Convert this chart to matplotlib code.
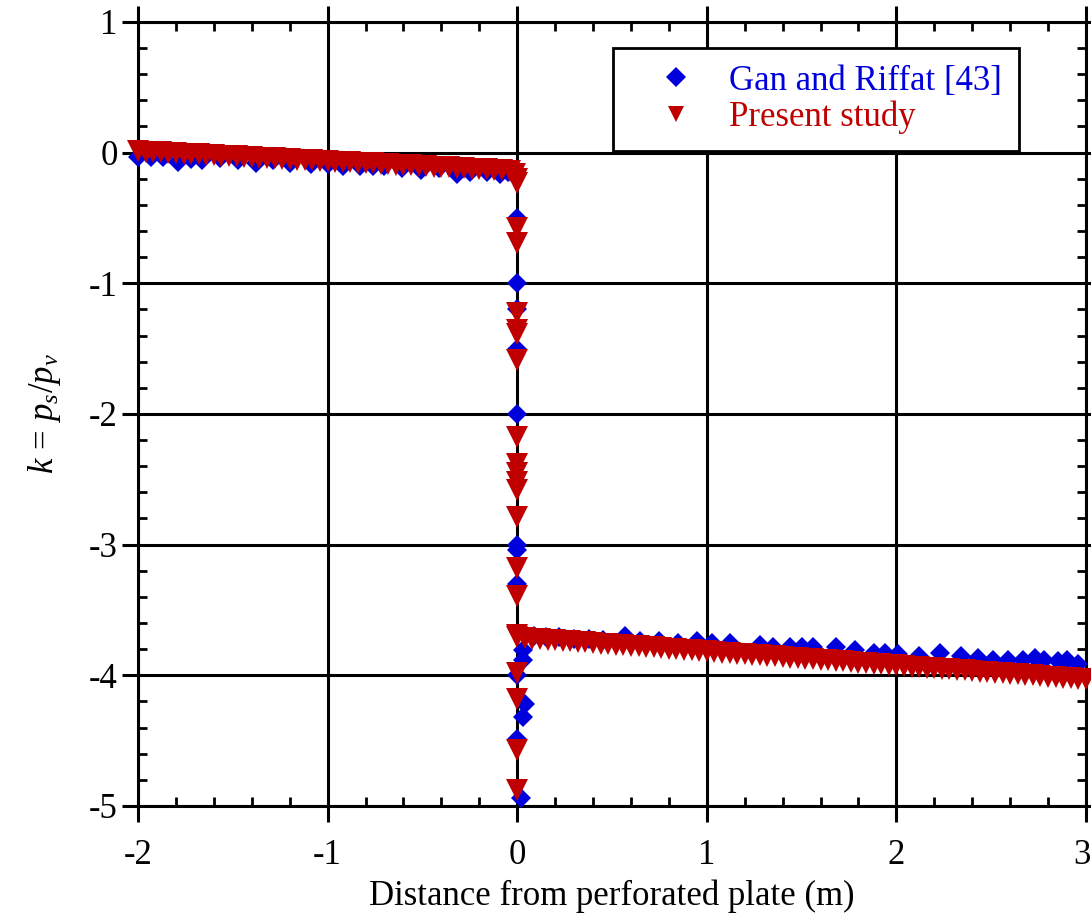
import matplotlib
matplotlib.use('Agg')
from matplotlib import pyplot as plt
from matplotlib.ticker import MultipleLocator
from matplotlib.transforms import ScaledTranslation

# Gan and Riffat [43] - measured pressure coefficient
gan_x = [-2.00, -1.93, -1.87, -1.79, -1.72, -1.66, -1.57, -1.47, -1.38, -1.29,
         -1.20, -1.09, -1.00, -0.92, -0.83, -0.76, -0.70, -0.61, -0.51, -0.41,
         -0.32, -0.25, -0.16, -0.09, -0.05, -0.01,
         0.00, 0.00, 0.00, 0.00, 0.00, 0.00, 0.00, 0.00, 0.03, 0.03,
         0.00, 0.04, 0.03, 0.00, 0.02,
         0.09, 0.15, 0.22, 0.30, 0.38, 0.45, 0.57, 0.65, 0.75, 0.85,
         0.95, 1.03, 1.12, 1.28, 1.35, 1.44, 1.50, 1.56, 1.68, 1.78,
         1.88, 1.94, 2.01, 2.12, 2.23, 2.34, 2.43, 2.51, 2.59, 2.67,
         2.73, 2.78, 2.85, 2.90, 2.96]
gan_y = [-0.03, -0.03, -0.03, -0.07, -0.05, -0.06, -0.04, -0.06, -0.08, -0.06,
         -0.08, -0.09, -0.09, -0.10, -0.10, -0.10, -0.10, -0.12, -0.13, -0.12,
         -0.16, -0.15, -0.15, -0.16, -0.15, -0.15,
         -0.50, -1.00, -1.20, -1.50, -2.00, -3.00, -3.04, -3.30, -3.81, -3.88,
         -4.00, -4.22, -4.32, -4.49, -4.94,
         -3.70, -3.71, -3.71, -3.72, -3.72, -3.73, -3.70, -3.74, -3.74, -3.75,
         -3.74, -3.75, -3.75, -3.77, -3.78, -3.78, -3.78, -3.78, -3.78, -3.81,
         -3.83, -3.83, -3.84, -3.85, -3.83, -3.85, -3.87, -3.88, -3.88, -3.88,
         -3.87, -3.88, -3.89, -3.88, -3.91]

# present study - upstream of the plate
study_up_x = [-2.00, -1.96, -1.92, -1.88, -1.84, -1.80, -1.76, -1.72, -1.68, -1.64,
              -1.60, -1.56, -1.52, -1.48, -1.44, -1.40, -1.36, -1.32, -1.28, -1.24,
              -1.20, -1.16, -1.12, -1.08, -1.04, -1.00, -0.96, -0.92, -0.88, -0.84,
              -0.80, -0.76, -0.72, -0.68, -0.64, -0.60, -0.56, -0.52, -0.48, -0.44,
              -0.40, -0.36, -0.32, -0.28, -0.24, -0.20, -0.16, -0.12, -0.08, -0.04,
              -0.01, 0.00]
study_up_y = [0.010, 0.007, 0.004, 0.001, -0.002, -0.005, -0.008, -0.011, -0.014, -0.017,
              -0.020, -0.023, -0.026, -0.029, -0.032, -0.035, -0.038, -0.041, -0.044, -0.047,
              -0.050, -0.053, -0.056, -0.059, -0.062, -0.065, -0.068, -0.071, -0.074, -0.077,
              -0.080, -0.083, -0.086, -0.089, -0.092, -0.095, -0.098, -0.101, -0.104, -0.107,
              -0.110, -0.113, -0.116, -0.119, -0.122, -0.125, -0.128, -0.131, -0.134, -0.137,
              -0.160, -0.200]

# present study - across the plate (x = 0)
study_plate_y = [-0.23, -0.58, -0.69, -1.23, -1.36, -1.39, -1.59, -2.18, -2.38, -2.45,
                 -2.52, -2.58, -2.79, -3.18, -3.39, -3.69, -3.98, -4.18, -4.57, -4.88]
study_plate_x = [0.0] * len(study_plate_y)

# present study - downstream of the plate
study_down_x = [0.00, 0.04, 0.08, 0.12, 0.16, 0.20, 0.24, 0.28, 0.32, 0.36,
                0.40, 0.44, 0.48, 0.52, 0.56, 0.60, 0.64, 0.68, 0.72, 0.76,
                0.80, 0.84, 0.88, 0.92, 0.96, 1.00, 1.04, 1.08, 1.12, 1.16,
                1.20, 1.24, 1.28, 1.32, 1.36, 1.40, 1.44, 1.48, 1.52, 1.56,
                1.60, 1.64, 1.68, 1.72, 1.76, 1.80, 1.84, 1.88, 1.92, 1.96,
                2.00, 2.04, 2.08, 2.12, 2.16, 2.20, 2.24, 2.28, 2.32, 2.36,
                2.40, 2.44, 2.48, 2.52, 2.56, 2.60, 2.64, 2.68, 2.72, 2.76,
                2.80, 2.84, 2.88, 2.92, 2.96, 3.00]
study_down_y = [-3.710, -3.714, -3.719, -3.723, -3.727, -3.731, -3.736, -3.740, -3.744, -3.749,
                -3.753, -3.757, -3.761, -3.766, -3.770, -3.774, -3.778, -3.783, -3.787, -3.791,
                -3.796, -3.800, -3.804, -3.808, -3.813, -3.817, -3.821, -3.826, -3.830, -3.834,
                -3.838, -3.843, -3.847, -3.851, -3.856, -3.860, -3.864, -3.868, -3.873, -3.877,
                -3.881, -3.885, -3.890, -3.894, -3.898, -3.903, -3.907, -3.911, -3.915, -3.920,
                -3.924, -3.928, -3.933, -3.937, -3.941, -3.945, -3.950, -3.954, -3.958, -3.963,
                -3.967, -3.971, -3.975, -3.980, -3.984, -3.988, -3.992, -3.997, -4.001, -4.005,
                -4.010, -4.014, -4.018, -4.022, -4.027, -4.031]

study_x = study_up_x + study_plate_x + study_down_x
study_y = study_up_y + study_plate_y + study_down_y

x_ticks = [-2, -1, 0, 1, 2, 3]
y_ticks = [-5, -4, -3, -2, -1, 0, 1]

BLUE = '#0000dc'
RED = '#c00000'

plt.rcParams['font.family'] = ['Liberation Serif', 'DejaVu Serif']
plt.rcParams['mathtext.fontset'] = 'custom'
plt.rcParams['mathtext.rm'] = 'Liberation Serif'
plt.rcParams['mathtext.it'] = 'Liberation Serif:italic'
plt.rcParams['axes.unicode_minus'] = False
plt.rcParams['font.size'] = 25

fig = plt.figure(figsize=(10.91, 9.19), dpi=100)
ax = fig.add_axes([0.1265, 0.1230, 0.8689, 0.8531])

ax.plot(gan_x, gan_y, 'D', color=BLUE, markersize=10, markeredgewidth=0,
        clip_on=False, label='Gan and Riffat [43]', zorder=3)
ax.plot(study_x, study_y, 'v', color=RED, markersize=15.5, markeredgewidth=0,
        clip_on=False, label='Present study', zorder=4)

ax.set_xlim(-2, 3)
ax.set_ylim(-5, 1)
ax.set_xticks(x_ticks)
ax.set_yticks(y_ticks)
ax.xaxis.set_minor_locator(MultipleLocator(0.2))
ax.yaxis.set_minor_locator(MultipleLocator(0.2))

ax.grid(True, which='major', color='black', linewidth=2.2)
ax.set_axisbelow(True)
for side in ax.spines.values():
    side.set_linewidth(2.2)

ax.tick_params(which='major', direction='out', length=11.5, width=2.2,
               top=True, right=True, pad=3, labelsize=25)
ax.tick_params(axis='x', which='major', pad=12)
ax.tick_params(which='minor', direction='in', length=6.5, width=2,
               top=True, right=True)

ax.set_xlabel('Distance from perforated plate (m)', labelpad=6)
ax.set_ylabel(r'$k\,=\,p_s/p_v$', labelpad=19)

leg = ax.legend(loc='upper left', bbox_to_anchor=(0.501, 0.967), borderaxespad=0,
                fancybox=False, framealpha=1, edgecolor='black', fontsize=25,
                labelspacing=0.1, handlelength=2.68, handletextpad=0.19,
                borderpad=0.48)
leg.get_frame().set_linewidth(2)
for text, c in zip(leg.get_texts(), [BLUE, RED]):
    text.set_color(c)
leg.legend_handles[0].set_markersize(10)
leg.legend_handles[1].set_markersize(11)

# pull the "3" at the right end back inside the figure
fig.canvas.draw()
last = ax.xaxis.get_major_ticks()[len(x_ticks) - 1].label1
last.set_transform(last.get_transform() + ScaledTranslation(-0.045, 0, fig.dpi_scale_trans))

fig.savefig('out.png', dpi=100)
